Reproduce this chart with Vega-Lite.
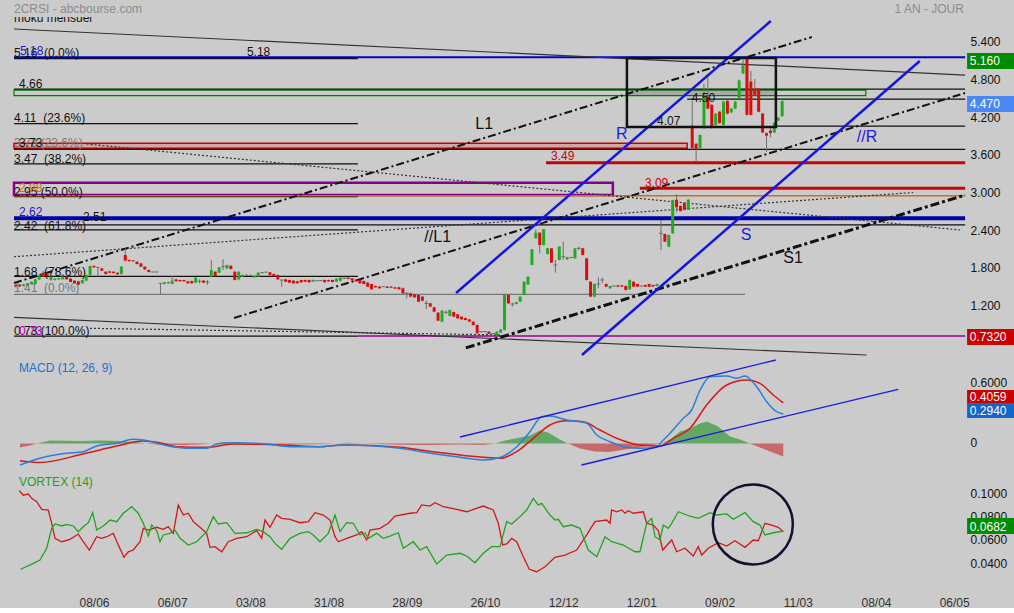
{
"$schema":"https://vega.github.io/schema/vega-lite/v6.json",
"background":"#cbcbcb",
"padding":0,
"spacing":0,
"bounds":"flush",
"config":{"view":{"stroke":null},"font":"Liberation Sans"},
"resolve":{"scale":{"x":"independent","y":"independent"}},
"datasets":{
"titles":[{"t":"2CRSI - abcbourse.com","i":-0.46,"y":8,"a":"L"},{"t":"1 AN - JOUR","i":242.5,"y":8,"a":"R"}],
"candles":[
{"i":0,"o":1.543,"h":1.555,"l":1.505,"c":1.517},{"i":1,"o":1.549,"h":1.56,"l":1.51,"c":1.522},{"i":2,"o":1.527,"h":1.56,"l":1.52,"c":1.554},{"i":3,"o":1.533,"h":1.575,"l":1.525,"c":1.57},{"i":4,"o":1.559,"h":1.6,"l":1.55,"c":1.596},{"i":5,"o":1.559,"h":1.64,"l":1.55,"c":1.633},{"i":6,"o":1.633,"h":1.71,"l":1.62,"c":1.702},{"i":7,"o":1.739,"h":1.77,"l":1.67,"c":1.676},{"i":8,"o":1.729,"h":1.74,"l":1.68,"c":1.686},{"i":9,"o":1.623,"h":1.68,"l":1.61,"c":1.676},
{"i":10,"o":1.623,"h":1.65,"l":1.615,"c":1.644},{"i":11,"o":1.633,"h":1.66,"l":1.625,"c":1.655},{"i":12,"o":1.633,"h":1.68,"l":1.63,"c":1.676},{"i":13,"o":1.676,"h":1.685,"l":1.63,"c":1.633},{"i":14,"o":1.644,"h":1.65,"l":1.585,"c":1.591},{"i":15,"o":1.612,"h":1.62,"l":1.565,"c":1.57},{"i":16,"o":1.602,"h":1.61,"l":1.54,"c":1.549},{"i":17,"o":1.57,"h":1.63,"l":1.565,"c":1.623},{"i":18,"o":1.612,"h":1.71,"l":1.605,"c":1.702},{"i":19,"o":1.702,"h":1.85,"l":1.7,"c":1.846},
{"i":20,"o":1.846,"h":1.86,"l":1.82,"c":1.824},{"i":21,"o":1.824,"h":1.83,"l":1.676,"c":1.824},{"i":22,"o":1.808,"h":1.815,"l":1.765,"c":1.771},{"i":23,"o":1.755,"h":1.76,"l":1.71,"c":1.718},{"i":24,"o":1.76,"h":1.765,"l":1.735,"c":1.739},{"i":25,"o":1.755,"h":1.76,"l":1.73,"c":1.734},{"i":26,"o":1.739,"h":1.745,"l":1.705,"c":1.713},{"i":27,"o":1.718,"h":1.84,"l":1.71,"c":1.835},{"i":28,"o":2.021,"h":2.127,"l":1.92,"c":1.93},{"i":29,"o":1.941,"h":1.95,"l":1.915,"c":1.92},
{"i":30,"o":1.935,"h":1.94,"l":1.915,"c":1.92},{"i":31,"o":1.914,"h":1.92,"l":1.87,"c":1.877},{"i":32,"o":1.888,"h":1.895,"l":1.83,"c":1.835},{"i":33,"o":1.835,"h":1.84,"l":1.785,"c":1.792},{"i":34,"o":1.782,"h":1.79,"l":1.745,"c":1.75},{"i":35,"o":1.75,"h":1.755,"l":1.745,"c":1.75},{"i":36,"o":1.75,"h":1.755,"l":1.745,"c":1.75},{"i":37,"o":1.57,"h":1.575,"l":1.4,"c":1.57},{"i":38,"o":1.559,"h":1.59,"l":1.555,"c":1.586},{"i":39,"o":1.57,"h":1.595,"l":1.565,"c":1.591},
{"i":40,"o":1.559,"h":1.686,"l":1.555,"c":1.612},{"i":41,"o":1.633,"h":1.64,"l":1.6,"c":1.602},{"i":42,"o":1.623,"h":1.63,"l":1.6,"c":1.602},{"i":43,"o":1.623,"h":1.63,"l":1.595,"c":1.602},{"i":44,"o":1.602,"h":1.61,"l":1.565,"c":1.57},{"i":45,"o":1.607,"h":1.615,"l":1.565,"c":1.57},{"i":46,"o":1.58,"h":1.665,"l":1.575,"c":1.66},{"i":47,"o":1.602,"h":1.633,"l":1.57,"c":1.602},{"i":48,"o":1.612,"h":1.62,"l":1.575,"c":1.58},{"i":49,"o":1.591,"h":1.623,"l":1.543,"c":1.591},
{"i":50,"o":1.676,"h":1.941,"l":1.67,"c":1.782},{"i":51,"o":1.755,"h":1.76,"l":1.68,"c":1.686},{"i":52,"o":1.739,"h":1.83,"l":1.735,"c":1.824},{"i":53,"o":1.835,"h":1.952,"l":1.782,"c":1.835},{"i":54,"o":1.808,"h":1.865,"l":1.8,"c":1.86},{"i":55,"o":1.85,"h":1.855,"l":1.79,"c":1.798},{"i":56,"o":1.755,"h":1.76,"l":1.615,"c":1.623},{"i":57,"o":1.633,"h":1.76,"l":1.625,"c":1.755},{"i":58,"o":1.676,"h":1.71,"l":1.67,"c":1.702},{"i":59,"o":1.697,"h":1.715,"l":1.69,"c":1.708},
{"i":60,"o":1.692,"h":1.71,"l":1.685,"c":1.702},{"i":61,"o":1.665,"h":1.695,"l":1.66,"c":1.69},{"i":62,"o":1.676,"h":1.745,"l":1.67,"c":1.739},{"i":63,"o":1.739,"h":1.75,"l":1.73,"c":1.739},{"i":64,"o":1.739,"h":1.76,"l":1.735,"c":1.755},{"i":65,"o":1.745,"h":1.75,"l":1.695,"c":1.702},{"i":66,"o":1.718,"h":1.725,"l":1.68,"c":1.686},{"i":67,"o":1.702,"h":1.71,"l":1.625,"c":1.633},{"i":68,"o":1.623,"h":1.63,"l":1.517,"c":1.623},{"i":69,"o":1.633,"h":1.64,"l":1.59,"c":1.596},
{"i":70,"o":1.623,"h":1.63,"l":1.575,"c":1.58},{"i":71,"o":1.612,"h":1.62,"l":1.565,"c":1.57},{"i":72,"o":1.602,"h":1.61,"l":1.565,"c":1.57},{"i":73,"o":1.623,"h":1.63,"l":1.58,"c":1.586},{"i":74,"o":1.623,"h":1.63,"l":1.59,"c":1.596},{"i":75,"o":1.623,"h":1.63,"l":1.58,"c":1.586},{"i":76,"o":1.596,"h":1.63,"l":1.59,"c":1.623},{"i":77,"o":1.612,"h":1.62,"l":1.605,"c":1.612},{"i":78,"o":1.612,"h":1.62,"l":1.605,"c":1.612},{"i":79,"o":1.623,"h":1.63,"l":1.58,"c":1.586},
{"i":80,"o":1.623,"h":1.63,"l":1.595,"c":1.602},{"i":81,"o":1.623,"h":1.63,"l":1.585,"c":1.591},{"i":82,"o":1.596,"h":1.65,"l":1.59,"c":1.644},{"i":83,"o":1.61,"h":1.67,"l":1.6,"c":1.66},{"i":84,"o":1.65,"h":1.66,"l":1.64,"c":1.65},{"i":85,"o":1.66,"h":1.67,"l":1.635,"c":1.64},{"i":86,"o":1.65,"h":1.655,"l":1.615,"c":1.62},{"i":87,"o":1.63,"h":1.635,"l":1.595,"c":1.6},{"i":88,"o":1.623,"h":1.63,"l":1.565,"c":1.57},{"i":89,"o":1.607,"h":1.615,"l":1.555,"c":1.559},
{"i":90,"o":1.58,"h":1.59,"l":1.51,"c":1.517},{"i":91,"o":1.559,"h":1.565,"l":1.47,"c":1.474},{"i":92,"o":1.527,"h":1.535,"l":1.5,"c":1.506},{"i":93,"o":1.517,"h":1.525,"l":1.485,"c":1.49},{"i":94,"o":1.517,"h":1.525,"l":1.51,"c":1.517},{"i":95,"o":1.517,"h":1.525,"l":1.49,"c":1.495},{"i":96,"o":1.517,"h":1.525,"l":1.495,"c":1.5},{"i":97,"o":1.506,"h":1.515,"l":1.48,"c":1.485},{"i":98,"o":1.506,"h":1.515,"l":1.47,"c":1.474},{"i":99,"o":1.49,"h":1.5,"l":1.405,"c":1.411},
{"i":100,"o":1.411,"h":1.43,"l":1.33,"c":1.411},{"i":101,"o":1.411,"h":1.42,"l":1.35,"c":1.358},{"i":102,"o":1.395,"h":1.4,"l":1.34,"c":1.347},{"i":103,"o":1.384,"h":1.39,"l":1.27,"c":1.278},{"i":104,"o":1.358,"h":1.365,"l":1.285,"c":1.294},{"i":105,"o":1.252,"h":1.294,"l":1.156,"c":1.252},{"i":106,"o":1.252,"h":1.26,"l":1.19,"c":1.199},{"i":107,"o":1.188,"h":1.195,"l":1.11,"c":1.119},{"i":108,"o":1.103,"h":1.11,"l":0.97,"c":0.976},{"i":109,"o":0.96,"h":1.14,"l":0.955,"c":1.135},
{"i":110,"o":1.108,"h":1.135,"l":1.082,"c":1.108},{"i":111,"o":1.05,"h":1.15,"l":1.045,"c":1.146},{"i":112,"o":1.114,"h":1.12,"l":1.035,"c":1.04},{"i":113,"o":1.077,"h":1.085,"l":1.005,"c":1.013},{"i":114,"o":1.04,"h":1.045,"l":0.99,"c":0.997},{"i":115,"o":1.018,"h":1.025,"l":0.98,"c":0.986},{"i":116,"o":0.997,"h":1.005,"l":0.955,"c":0.96},{"i":117,"o":0.96,"h":0.965,"l":0.9,"c":0.907},{"i":118,"o":0.907,"h":0.915,"l":0.77,"c":0.774},{"i":119,"o":0.801,"h":0.81,"l":0.79,"c":0.801},
{"i":120,"o":0.801,"h":0.81,"l":0.79,"c":0.801},{"i":121,"o":0.801,"h":0.81,"l":0.76,"c":0.764},{"i":122,"o":0.77,"h":0.78,"l":0.76,"c":0.77},{"i":123,"o":0.748,"h":0.805,"l":0.745,"c":0.801},{"i":124,"o":0.785,"h":0.84,"l":0.78,"c":0.835},{"i":125,"o":0.827,"h":1.39,"l":0.82,"c":1.384},{"i":126,"o":1.384,"h":1.39,"l":1.245,"c":1.252},{"i":127,"o":1.241,"h":1.26,"l":1.2,"c":1.241},{"i":128,"o":1.241,"h":1.275,"l":1.235,"c":1.27},{"i":129,"o":1.278,"h":1.36,"l":1.27,"c":1.358},
{"i":130,"o":1.384,"h":1.6,"l":1.38,"c":1.596},{"i":131,"o":1.55,"h":1.68,"l":1.545,"c":1.676},{"i":132,"o":1.862,"h":2.115,"l":1.855,"c":2.111},{"i":133,"o":2.286,"h":2.43,"l":2.28,"c":2.376},{"i":134,"o":2.376,"h":2.38,"l":2.047,"c":2.18},{"i":135,"o":2.18,"h":2.435,"l":2.175,"c":2.429},{"i":136,"o":2.037,"h":2.13,"l":2.03,"c":2.127},{"i":137,"o":2.127,"h":2.13,"l":1.895,"c":1.899},{"i":138,"o":1.862,"h":1.941,"l":1.74,"c":1.862},{"i":139,"o":1.941,"h":2.16,"l":1.935,"c":2.153},
{"i":140,"o":1.994,"h":2.233,"l":1.941,"c":1.994},{"i":141,"o":1.952,"h":1.99,"l":1.945,"c":1.984},{"i":142,"o":1.98,"h":1.99,"l":1.97,"c":1.98},{"i":143,"o":1.968,"h":2.13,"l":1.96,"c":2.127},{"i":144,"o":2.127,"h":2.153,"l":2.1,"c":2.127},{"i":145,"o":2.127,"h":2.135,"l":2.015,"c":2.021},{"i":146,"o":1.968,"h":1.975,"l":1.615,"c":1.623},{"i":147,"o":1.596,"h":1.6,"l":1.35,"c":1.358},{"i":148,"o":1.358,"h":1.565,"l":1.35,"c":1.559},{"i":149,"o":1.559,"h":1.665,"l":1.49,"c":1.559},
{"i":150,"o":1.623,"h":1.665,"l":1.57,"c":1.623},{"i":151,"o":1.559,"h":1.565,"l":1.51,"c":1.517},{"i":152,"o":1.49,"h":1.53,"l":1.485,"c":1.527},{"i":153,"o":1.527,"h":1.535,"l":1.52,"c":1.527},{"i":154,"o":1.538,"h":1.545,"l":1.51,"c":1.517},{"i":155,"o":1.538,"h":1.545,"l":1.51,"c":1.517},{"i":156,"o":1.527,"h":1.535,"l":1.455,"c":1.464},{"i":157,"o":1.474,"h":1.63,"l":1.47,"c":1.623},{"i":158,"o":1.596,"h":1.6,"l":1.51,"c":1.517},{"i":159,"o":1.559,"h":1.565,"l":1.51,"c":1.517},
{"i":160,"o":1.527,"h":1.535,"l":1.52,"c":1.527},{"i":161,"o":1.543,"h":1.55,"l":1.51,"c":1.517},{"i":162,"o":1.559,"h":1.565,"l":1.51,"c":1.517},{"i":163,"o":1.543,"h":1.55,"l":1.515,"c":1.52},{"i":164,"o":1.527,"h":1.565,"l":1.52,"c":1.559},{"i":165,"o":2.365,"h":2.578,"l":2.1,"c":2.365},{"i":166,"o":2.355,"h":2.36,"l":2.225,"c":2.233},{"i":167,"o":2.153,"h":2.345,"l":2.145,"c":2.339},{"i":168,"o":2.365,"h":2.9,"l":2.36,"c":2.896},{"i":169,"o":2.9,"h":2.99,"l":2.7,"c":2.78},
{"i":170,"o":2.8,"h":2.81,"l":2.71,"c":2.72},{"i":171,"o":2.85,"h":2.86,"l":2.73,"c":2.74},{"i":172,"o":2.74,"h":2.91,"l":2.735,"c":2.9},{"i":173,"o":4.08,"h":4.48,"l":3.7,"c":3.72},{"i":174,"o":3.79,"h":3.8,"l":3.5,"c":3.7},{"i":175,"o":3.72,"h":3.94,"l":3.715,"c":3.93},{"i":176,"o":4.04,"h":4.75,"l":4.03,"c":4.57},{"i":177,"o":4.54,"h":4.86,"l":4.34,"c":4.35},{"i":178,"o":4.41,"h":4.42,"l":4.03,"c":4.04},{"i":179,"o":4.09,"h":4.28,"l":4.08,"c":4.27},
{"i":180,"o":4.3,"h":4.31,"l":4.11,"c":4.12},{"i":181,"o":4.09,"h":4.47,"l":4.08,"c":4.46},{"i":182,"o":4.475,"h":4.48,"l":4.26,"c":4.27},{"i":183,"o":4.29,"h":4.36,"l":4.28,"c":4.35},{"i":184,"o":4.35,"h":4.47,"l":4.34,"c":4.46},{"i":185,"o":4.51,"h":4.81,"l":4.5,"c":4.8},{"i":186,"o":4.91,"h":5.13,"l":4.9,"c":5.04},{"i":187,"o":5.15,"h":5.16,"l":4.24,"c":4.25},{"i":188,"o":4.78,"h":4.95,"l":4.24,"c":4.25},{"i":189,"o":4.67,"h":4.82,"l":4.56,"c":4.57},
{"i":190,"o":4.67,"h":4.68,"l":4.29,"c":4.3},{"i":191,"o":4.27,"h":4.28,"l":3.96,"c":3.97},{"i":192,"o":3.96,"h":3.97,"l":3.66,"c":3.92},{"i":193,"o":4.0,"h":4.05,"l":3.89,"c":3.96},{"i":194,"o":3.97,"h":4.13,"l":3.96,"c":4.125},{"i":195,"o":4.16,"h":4.21,"l":4.15,"c":4.205},{"i":196,"o":4.23,"h":4.48,"l":4.22,"c":4.47}
],
"boxes":[
{"id":"red","i1":-0.46,"i2":171.7,"p1":3.718,"p2":3.798},
{"id":"green","i1":-0.46,"i2":217.4,"p1":4.555,"p2":4.645},
{"id":"gfill","i1":156.3,"i2":194.4,"p1":4.56,"p2":4.64},
{"id":"purple","i1":-0.46,"i2":152.7,"p1":2.975,"p2":3.171},
{"id":"black","i1":156.3,"i2":194.4,"p1":4.057,"p2":5.155}
],
"lines":[
{"id":"f1","k":"blk","i":-0.46,"p":5.145},{"id":"f1","k":"blk","i":87.5,"p":5.145},
{"id":"f2","k":"blk","i":-0.46,"p":4.11},{"id":"f2","k":"blk","i":87.5,"p":4.11},
{"id":"f3","k":"blk","i":-0.46,"p":3.47},{"id":"f3","k":"blk","i":87.5,"p":3.47},
{"id":"f4","k":"blk","i":-0.46,"p":2.95},{"id":"f4","k":"blk","i":87.5,"p":2.95},
{"id":"f5","k":"blk","i":-0.46,"p":2.42},{"id":"f5","k":"blk","i":87.5,"p":2.42},
{"id":"f6","k":"blk","i":-0.46,"p":1.68},{"id":"f6","k":"blk","i":87.5,"p":1.68},
{"id":"f7","k":"blk","i":-0.46,"p":0.73},{"id":"f7","k":"blk","i":87.5,"p":0.73},
{"id":"h1","k":"blk","i":-0.46,"p":4.66},{"id":"h1","k":"blk","i":242.8,"p":4.66},
{"id":"h2","k":"blk","i":-0.46,"p":3.702},{"id":"h2","k":"blk","i":242.8,"p":3.702},
{"id":"h3","k":"blk","i":-0.46,"p":2.5},{"id":"h3","k":"blk","i":242.8,"p":2.5},
{"id":"h4","k":"blk","i":171.7,"p":4.5},{"id":"h4","k":"blk","i":242.8,"p":4.5},
{"id":"h5","k":"blk","i":194.4,"p":4.07},{"id":"h5","k":"blk","i":242.8,"p":4.07},
{"id":"t1","k":"thin","i":-0.46,"p":5.616},{"id":"t1","k":"thin","i":242.8,"p":4.884},
{"id":"t2","k":"thin","i":-0.46,"p":1.029},{"id":"t2","k":"thin","i":217.6,"p":0.429},
{"id":"b1","k":"blue4","i":-0.46,"p":2.604},{"id":"b1","k":"blue4","i":242.8,"p":2.604},
{"id":"b2","k":"blue2","i":-0.46,"p":5.165},{"id":"b2","k":"blue2","i":242.8,"p":5.165},
{"id":"r1","k":"red3","i":135.6,"p":3.489},{"id":"r1","k":"red3","i":242.8,"p":3.489},
{"id":"r2","k":"red3","i":159.6,"p":3.082},{"id":"r2","k":"red3","i":242.8,"p":3.082},
{"id":"o1","k":"orange","i":-0.46,"p":2.964},{"id":"o1","k":"orange","i":242.8,"p":2.964},
{"id":"p1","k":"purple","i":87.5,"p":0.732},{"id":"p1","k":"purple","i":242.8,"p":0.732},
{"id":"g1","k":"gray","i":-0.46,"p":1.395},{"id":"g1","k":"gray","i":186.5,"p":1.395},
{"id":"d1","k":"dd2","i":-0.46,"p":1.575},{"id":"d1","k":"dd2","i":203.6,"p":5.489},
{"id":"d2","k":"dd2","i":55.8,"p":1.018},{"id":"d2","k":"dd2","i":242.8,"p":4.598},
{"id":"d3","k":"dd3","i":115.1,"p":0.542},{"id":"d3","k":"dd3","i":242.8,"p":2.975},
{"id":"s1","k":"bluesl","i":112.6,"p":1.416},{"id":"s1","k":"bluesl","i":193.1,"p":5.744},
{"id":"s2","k":"bluesl","i":144.8,"p":0.43},{"id":"s2","k":"bluesl","i":231.2,"p":5.107},
{"id":"q1","k":"dot","i":-0.46,"p":1.993},{"id":"q1","k":"dot","i":229.5,"p":3.015},
{"id":"q2","k":"dot","i":18.1,"p":3.787},{"id":"q2","k":"dot","i":241.5,"p":2.418},
{"id":"q3","k":"dot","i":18.98,"p":0.854},{"id":"q3","k":"dot","i":123.8,"p":0.749}
],
"labels":[
{"t":"5.16\u00a0 (0.0%)","k":"blk","i":-0.46,"p":5.23},
{"t":"5.18","k":"blue","i":1.07,"p":5.274},
{"t":"5.18","k":"blk","i":59.1,"p":5.25},
{"t":"4.66","k":"blk","i":0.82,"p":4.741},
{"t":"4.11\u00a0 (23.6%)","k":"blk","i":-0.46,"p":4.2},
{"t":"3.73 (23.6%)","k":"gray","i":-0.46,"p":3.803},
{"t":"3.73","k":"blk","i":0.82,"p":3.803},
{"t":"3.47\u00a0 (38.2%)","k":"blk","i":-0.46,"p":3.548},
{"t":"2.95 (50.0%)","k":"blk","i":-0.46,"p":3.028},
{"t":"2.98","k":"orange","i":0.82,"p":3.087},
{"t":"2.62","k":"blue","i":0.82,"p":2.71},
{"t":"2.51","k":"blk","i":17.2,"p":2.625},
{"t":"2.42\u00a0 (61.8%)","k":"blk","i":-0.46,"p":2.482},
{"t":"1.68\u00a0 (78.6%)","k":"blk","i":-0.46,"p":1.755},
{"t":"1.41\u00a0 (0.0%)","k":"gray","i":-0.46,"p":1.491},
{"t":"0.73 (100.0%)","k":"blk","i":-0.46,"p":0.811},
{"t":"0.73","k":"purple","i":0.82,"p":0.811},
{"t":"4.50","k":"blk","i":172.9,"p":4.519},
{"t":"4.07","k":"blk","i":164.0,"p":4.153},
{"t":"3.49","k":"red","i":136.9,"p":3.596},
{"t":"3.09","k":"red","i":160.9,"p":3.171}
],
"biglabels":[
{"t":"L1","k":"blk","i":119.8,"p":4.103},
{"t":"//L1","k":"blk","i":107.9,"p":2.31},
{"t":"R","k":"blue","i":155.0,"p":3.946},
{"t":"//R","k":"blue","i":217.7,"p":3.898},
{"t":"S","k":"blue","i":186.8,"p":2.339},
{"t":"S1","k":"blk","i":198.8,"p":1.973}
],
"moku":[{"t":"moku mensuel","i":-0.46,"p":5.728}],
"pricetags":[
{"t":"5.160","k":"g","i1":243.3,"i2":255.5,"p":5.107,"p1":4.98,"p2":5.234,"ti":244.0},
{"t":"4.470","k":"b","i1":243.3,"i2":255.5,"p":4.423,"p1":4.296,"p2":4.55,"ti":244.0},
{"t":"0.7320","k":"r","i1":243.3,"i2":255.5,"p":0.716,"p1":0.589,"p2":0.843,"ti":244.0}
],
"macd":[
{"i":1.07,"v":-0.215,"s":"m"},{"i":6.19,"v":-0.148,"s":"m"},{"i":13.02,"v":-0.098,"s":"m"},{"i":17.19,"v":-0.082,"s":"m"},{"i":20.69,"v":-0.025,"s":"m"},{"i":25.81,"v":0.002,"s":"m"},{"i":29.97,"v":0.042,"s":"m"},{"i":32.53,"v":0.035,"s":"m"},{"i":36.88,"v":-0.005,"s":"m"},{"i":41.15,"v":-0.038,"s":"m"},{"i":43.71,"v":-0.048,"s":"m"},{"i":48.82,"v":-0.048,"s":"m"},{"i":51.38,"v":-0.005,"s":"m"},{"i":55.55,"v":0.008,"s":"m"},{"i":64.17,"v":-0.005,"s":"m"},{"i":70.13,"v":-0.032,"s":"m"},{"i":77.8,"v":-0.032,"s":"m"},{"i":83.68,"v":-0.015,"s":"m"},{"i":88.03,"v":-0.018,"s":"m"},{"i":98.26,"v":-0.048,"s":"m"},{"i":105.93,"v":-0.098,"s":"m"},{"i":113.6,"v":-0.138,"s":"m"},{"i":119.49,"v":-0.165,"s":"m"},{"i":123.84,"v":-0.14,"s":"m"},{"i":128.11,"v":-0.032,"s":"m"},{"i":131.51,"v":0.118,"s":"m"},{"i":134.5,"v":0.268,"s":"m"},{"i":136.62,"v":0.275,"s":"m"},{"i":140.9,"v":0.235,"s":"m"},{"i":146.01,"v":0.202,"s":"m"},{"i":148.57,"v":0.085,"s":"m"},{"i":151.97,"v":0.018,"s":"m"},{"i":156.24,"v":-0.038,"s":"m"},{"i":159.64,"v":-0.048,"s":"m"},{"i":163.91,"v":-0.038,"s":"m"},{"i":165.19,"v":0.018,"s":"m"},{"i":167.31,"v":0.102,"s":"m"},{"i":170.72,"v":0.252,"s":"m"},{"i":172.86,"v":0.335,"s":"m"},{"i":175.01,"v":0.535,"s":"m"},{"i":177.57,"v":0.668,"s":"m"},{"i":181.82,"v":0.675,"s":"m"},{"i":184.37,"v":0.652,"s":"m"},{"i":186.5,"v":0.675,"s":"m"},{"i":189.49,"v":0.568,"s":"m"},{"i":192.05,"v":0.418,"s":"m"},{"i":194.6,"v":0.318,"s":"m"},{"i":196.29,"v":0.294,"s":"m"},
{"i":1.07,"v":-0.172,"s":"s"},{"i":6.19,"v":-0.19,"s":"s"},{"i":17.19,"v":-0.105,"s":"s"},{"i":25.81,"v":-0.025,"s":"s"},{"i":32.53,"v":0.025,"s":"s"},{"i":36.88,"v":0.008,"s":"s"},{"i":41.15,"v":-0.032,"s":"s"},{"i":48.82,"v":-0.038,"s":"s"},{"i":55.55,"v":-0.005,"s":"s"},{"i":68.34,"v":-0.015,"s":"s"},{"i":77.8,"v":-0.032,"s":"s"},{"i":83.68,"v":-0.015,"s":"s"},{"i":98.26,"v":-0.038,"s":"s"},{"i":106.7,"v":-0.082,"s":"s"},{"i":119.49,"v":-0.138,"s":"s"},{"i":123.84,"v":-0.148,"s":"s"},{"i":128.11,"v":-0.082,"s":"s"},{"i":132.35,"v":0.052,"s":"s"},{"i":136.62,"v":0.185,"s":"s"},{"i":140.9,"v":0.228,"s":"s"},{"i":145.14,"v":0.218,"s":"s"},{"i":149.41,"v":0.135,"s":"s"},{"i":153.68,"v":0.052,"s":"s"},{"i":159.64,"v":-0.015,"s":"s"},{"i":164.76,"v":-0.025,"s":"s"},{"i":168.16,"v":0.052,"s":"s"},{"i":172.43,"v":0.152,"s":"s"},{"i":176.7,"v":0.385,"s":"s"},{"i":181.82,"v":0.585,"s":"s"},{"i":186.93,"v":0.635,"s":"s"},{"i":190.33,"v":0.602,"s":"s"},{"i":193.73,"v":0.485,"s":"s"},{"i":196.29,"v":0.406,"s":"s"}
],
"hist":[
{"i":1.07,"g":0,"r":-0.04},{"i":3.63,"g":0,"r":-0.02},{"i":5.42,"g":0,"r":0},{"i":8.75,"g":0.03,"r":0},{"i":16.42,"g":0.025,"r":0},{"i":21.53,"g":0.03,"r":0},{"i":26.65,"g":0.025,"r":0},{"i":30.49,"g":0.015,"r":0},{"i":33.04,"g":0,"r":0},{"i":36.88,"g":0,"r":-0.013},{"i":43.27,"g":0,"r":-0.015},{"i":47.11,"g":0,"r":-0.01},{"i":50.18,"g":0,"r":0},{"i":52.74,"g":0.01,"r":0},{"i":55.55,"g":0.013,"r":0},{"i":58.62,"g":0,"r":0},{"i":63.73,"g":0,"r":-0.006},{"i":67.57,"g":0,"r":-0.01},{"i":77.8,"g":0,"r":-0.008},{"i":81.9,"g":0,"r":0},{"i":85.0,"g":0.008,"r":0},{"i":88.54,"g":0,"r":0},{"i":98.26,"g":0,"r":-0.012},{"i":105.93,"g":0,"r":-0.015},{"i":113.6,"g":0,"r":-0.01},{"i":119.49,"g":0,"r":-0.015},{"i":122.56,"g":0,"r":0},{"i":125.12,"g":0.03,"r":0},{"i":128.95,"g":0.06,"r":0},{"i":131.51,"g":0.08,"r":0},{"i":134.07,"g":0.13,"r":0},{"i":136.11,"g":0.11,"r":0},{"i":138.67,"g":0.05,"r":0},{"i":141.23,"g":0,"r":0},{"i":144.3,"g":0,"r":-0.05},{"i":148.13,"g":0,"r":-0.08},{"i":151.97,"g":0,"r":-0.085},{"i":155.8,"g":0,"r":-0.06},{"i":159.64,"g":0,"r":-0.04},{"i":163.48,"g":0,"r":-0.01},{"i":165.27,"g":0,"r":0},{"i":167.31,"g":0.04,"r":0},{"i":169.87,"g":0.12,"r":0},{"i":172.43,"g":0.15,"r":0},{"i":174.99,"g":0.2,"r":0},{"i":176.78,"g":0.22,"r":0},{"i":179.59,"g":0.17,"r":0},{"i":182.66,"g":0.07,"r":0},{"i":185.22,"g":0.04,"r":0},{"i":187.77,"g":0,"r":0},{"i":190.33,"g":0,"r":-0.04},{"i":192.89,"g":0,"r":-0.08},{"i":194.94,"g":0,"r":-0.11},{"i":196.29,"g":0,"r":-0.13}
],
"macdtl":[
{"id":"u","i":113.6,"v":0.065},{"id":"u","i":194.4,"v":0.835},
{"id":"d","i":144.7,"v":-0.215},{"id":"d","i":225.7,"v":0.542}
],
"macdtext":[{"t":"MACD (12, 26, 9)","i":0.82,"v":0.755}],
"macdtags":[
{"t":"0.4059","k":"r","i1":243.3,"i2":255.5,"v1":0.385,"v2":0.535,"v":0.465,"ti":244.0},
{"t":"0.2940","k":"b","i1":243.3,"i2":255.5,"v1":0.255,"v2":0.405,"v":0.33,"ti":244.0}
],
"vortex":[
{"i":0.9,"v":0.1028,"s":"m"},{"i":1.92,"v":0.099,"s":"m"},{"i":3.2,"v":0.1,"s":"m"},{"i":4.07,"v":0.0963,"s":"m"},{"i":5.35,"v":0.0934,"s":"m"},{"i":6.62,"v":0.0869,"s":"m"},{"i":8.31,"v":0.0863,"s":"m"},{"i":9.18,"v":0.0749,"s":"m"},{"i":10.03,"v":0.062,"s":"m"},{"i":11.74,"v":0.0591,"s":"m"},{"i":13.86,"v":0.0612,"s":"m"},{"i":15.98,"v":0.0657,"s":"m"},{"i":17.26,"v":0.0591,"s":"m"},{"i":18.8,"v":0.052,"s":"m"},{"i":20.69,"v":0.0634,"s":"m"},{"i":21.97,"v":0.062,"s":"m"},{"i":23.25,"v":0.0634,"s":"m"},{"i":24.94,"v":0.0663,"s":"m"},{"i":25.96,"v":0.0583,"s":"m"},{"i":27.67,"v":0.0458,"s":"m"},{"i":28.77,"v":0.0505,"s":"m"},{"i":30.05,"v":0.052,"s":"m"},{"i":31.76,"v":0.0591,"s":"m"},{"i":32.61,"v":0.0706,"s":"m"},{"i":33.89,"v":0.0691,"s":"m"},{"i":36.04,"v":0.0715,"s":"m"},{"i":37.72,"v":0.0697,"s":"m"},{"i":39.0,"v":0.072,"s":"m"},{"i":40.28,"v":0.0663,"s":"m"},{"i":41.56,"v":0.0906,"s":"m"},{"i":42.84,"v":0.082,"s":"m"},{"i":44.12,"v":0.0835,"s":"m"},{"i":45.4,"v":0.0763,"s":"m"},{"i":47.11,"v":0.0715,"s":"m"},{"i":48.82,"v":0.0663,"s":"m"},{"i":49.67,"v":0.0543,"s":"m"},{"i":50.95,"v":0.0549,"s":"m"},{"i":52.66,"v":0.0505,"s":"m"},{"i":54.35,"v":0.0591,"s":"m"},{"i":56.5,"v":0.062,"s":"m"},{"i":59.05,"v":0.0634,"s":"m"},{"i":61.61,"v":0.0686,"s":"m"},{"i":62.89,"v":0.062,"s":"m"},{"i":63.73,"v":0.0777,"s":"m"},{"i":65.01,"v":0.0715,"s":"m"},{"i":66.73,"v":0.082,"s":"m"},{"i":68.0,"v":0.0792,"s":"m"},{"i":70.13,"v":0.0783,"s":"m"},{"i":72.69,"v":0.0754,"s":"m"},{"i":74.81,"v":0.0763,"s":"m"},{"i":76.52,"v":0.084,"s":"m"},{"i":78.64,"v":0.082,"s":"m"},{"i":80.36,"v":0.0777,"s":"m"},{"i":81.64,"v":0.0634,"s":"m"},{"i":82.48,"v":0.0591,"s":"m"},{"i":84.63,"v":0.062,"s":"m"},{"i":87.19,"v":0.0649,"s":"m"},{"i":88.47,"v":0.0677,"s":"m"},{"i":89.74,"v":0.0606,"s":"m"},{"i":90.59,"v":0.0691,"s":"m"},{"i":93.15,"v":0.0706,"s":"m"},{"i":95.27,"v":0.0749,"s":"m"},{"i":96.98,"v":0.0811,"s":"m"},{"i":100.82,"v":0.0835,"s":"m"},{"i":102.53,"v":0.084,"s":"m"},{"i":103.81,"v":0.0906,"s":"m"},{"i":105.93,"v":0.0897,"s":"m"},{"i":107.21,"v":0.0925,"s":"m"},{"i":109.34,"v":0.0891,"s":"m"},{"i":112.76,"v":0.0869,"s":"m"},{"i":115.32,"v":0.0848,"s":"m"},{"i":119.57,"v":0.0897,"s":"m"},{"i":122.12,"v":0.0863,"s":"m"},{"i":123.4,"v":0.0749,"s":"m"},{"i":124.53,"v":0.0563,"s":"m"},{"i":125.55,"v":0.0572,"s":"m"},{"i":126.83,"v":0.062,"s":"m"},{"i":128.11,"v":0.0591,"s":"m"},{"i":129.8,"v":0.0463,"s":"m"},{"i":131.33,"v":0.0355,"s":"m"},{"i":133.22,"v":0.0334,"s":"m"},{"i":135.35,"v":0.0377,"s":"m"},{"i":137.9,"v":0.0458,"s":"m"},{"i":140.46,"v":0.0477,"s":"m"},{"i":143.45,"v":0.052,"s":"m"},{"i":146.01,"v":0.0649,"s":"m"},{"i":148.13,"v":0.0763,"s":"m"},{"i":151.12,"v":0.0777,"s":"m"},{"i":151.97,"v":0.0749,"s":"m"},{"i":152.4,"v":0.0863,"s":"m"},{"i":153.68,"v":0.0848,"s":"m"},{"i":154.96,"v":0.0863,"s":"m"},{"i":155.81,"v":0.0835,"s":"m"},{"i":156.65,"v":0.0857,"s":"m"},{"i":157.93,"v":0.0835,"s":"m"},{"i":160.49,"v":0.0848,"s":"m"},{"i":161.36,"v":0.0749,"s":"m"},{"i":163.04,"v":0.0734,"s":"m"},{"i":164.32,"v":0.0686,"s":"m"},{"i":165.45,"v":0.052,"s":"m"},{"i":167.75,"v":0.0606,"s":"m"},{"i":169.03,"v":0.0505,"s":"m"},{"i":171.15,"v":0.0535,"s":"m"},{"i":173.27,"v":0.0469,"s":"m"},{"i":174.55,"v":0.0549,"s":"m"},{"i":175.42,"v":0.0477,"s":"m"},{"i":177.11,"v":0.0535,"s":"m"},{"i":179.67,"v":0.0583,"s":"m"},{"i":181.82,"v":0.0554,"s":"m"},{"i":183.94,"v":0.06,"s":"m"},{"i":186.5,"v":0.0543,"s":"m"},{"i":188.62,"v":0.0606,"s":"m"},{"i":189.9,"v":0.06,"s":"m"},{"i":191.61,"v":0.0749,"s":"m"},{"i":193.33,"v":0.0734,"s":"m"},{"i":195.01,"v":0.0715,"s":"m"},{"i":196.29,"v":0.0677,"s":"m"},
{"i":1.25,"v":0.0355,"s":"p"},{"i":4.48,"v":0.0406,"s":"p"},{"i":6.19,"v":0.0434,"s":"p"},{"i":7.9,"v":0.0535,"s":"p"},{"i":9.18,"v":0.0706,"s":"p"},{"i":10.03,"v":0.0743,"s":"p"},{"i":11.74,"v":0.0726,"s":"p"},{"i":13.02,"v":0.074,"s":"p"},{"i":14.71,"v":0.0726,"s":"p"},{"i":15.98,"v":0.0677,"s":"p"},{"i":17.26,"v":0.072,"s":"p"},{"i":18.54,"v":0.0754,"s":"p"},{"i":19.67,"v":0.084,"s":"p"},{"i":20.69,"v":0.0691,"s":"p"},{"i":22.38,"v":0.0726,"s":"p"},{"i":24.09,"v":0.0777,"s":"p"},{"i":25.81,"v":0.0763,"s":"p"},{"i":27.49,"v":0.0835,"s":"p"},{"i":29.64,"v":0.0891,"s":"p"},{"i":31.33,"v":0.0835,"s":"p"},{"i":32.61,"v":0.0749,"s":"p"},{"i":33.89,"v":0.064,"s":"p"},{"i":34.76,"v":0.0734,"s":"p"},{"i":36.04,"v":0.0686,"s":"p"},{"i":36.88,"v":0.0591,"s":"p"},{"i":37.72,"v":0.0649,"s":"p"},{"i":39.44,"v":0.0663,"s":"p"},{"i":40.72,"v":0.0691,"s":"p"},{"i":42.0,"v":0.062,"s":"p"},{"i":44.12,"v":0.0563,"s":"p"},{"i":46.27,"v":0.0591,"s":"p"},{"i":48.82,"v":0.0677,"s":"p"},{"i":50.51,"v":0.0806,"s":"p"},{"i":51.79,"v":0.0743,"s":"p"},{"i":53.94,"v":0.0754,"s":"p"},{"i":56.06,"v":0.0663,"s":"p"},{"i":59.05,"v":0.0668,"s":"p"},{"i":61.61,"v":0.0697,"s":"p"},{"i":63.3,"v":0.0677,"s":"p"},{"i":65.01,"v":0.0634,"s":"p"},{"i":66.29,"v":0.0577,"s":"p"},{"i":68.0,"v":0.0526,"s":"p"},{"i":70.13,"v":0.062,"s":"p"},{"i":72.69,"v":0.0663,"s":"p"},{"i":74.81,"v":0.0677,"s":"p"},{"i":76.09,"v":0.0649,"s":"p"},{"i":77.8,"v":0.0591,"s":"p"},{"i":79.92,"v":0.0663,"s":"p"},{"i":81.64,"v":0.082,"s":"p"},{"i":82.92,"v":0.0677,"s":"p"},{"i":84.63,"v":0.0754,"s":"p"},{"i":86.32,"v":0.0749,"s":"p"},{"i":88.03,"v":0.0649,"s":"p"},{"i":89.31,"v":0.0668,"s":"p"},{"i":90.15,"v":0.062,"s":"p"},{"i":92.3,"v":0.0663,"s":"p"},{"i":93.99,"v":0.062,"s":"p"},{"i":95.7,"v":0.064,"s":"p"},{"i":97.83,"v":0.0668,"s":"p"},{"i":99.1,"v":0.0535,"s":"p"},{"i":101.66,"v":0.0591,"s":"p"},{"i":103.38,"v":0.052,"s":"p"},{"i":105.09,"v":0.0549,"s":"p"},{"i":107.65,"v":0.04,"s":"p"},{"i":110.2,"v":0.0477,"s":"p"},{"i":113.61,"v":0.0492,"s":"p"},{"i":115.32,"v":0.0469,"s":"p"},{"i":117.44,"v":0.0411,"s":"p"},{"i":119.57,"v":0.0492,"s":"p"},{"i":121.71,"v":0.0549,"s":"p"},{"i":123.84,"v":0.0549,"s":"p"},{"i":125.55,"v":0.0763,"s":"p"},{"i":126.83,"v":0.0743,"s":"p"},{"i":128.95,"v":0.0806,"s":"p"},{"i":130.66,"v":0.0863,"s":"p"},{"i":132.35,"v":0.0963,"s":"p"},{"i":133.63,"v":0.0906,"s":"p"},{"i":134.5,"v":0.092,"s":"p"},{"i":136.62,"v":0.082,"s":"p"},{"i":137.9,"v":0.0777,"s":"p"},{"i":138.75,"v":0.0783,"s":"p"},{"i":140.03,"v":0.072,"s":"p"},{"i":142.17,"v":0.0734,"s":"p"},{"i":144.3,"v":0.0706,"s":"p"},{"i":146.42,"v":0.052,"s":"p"},{"i":148.57,"v":0.0463,"s":"p"},{"i":150.7,"v":0.0634,"s":"p"},{"i":152.4,"v":0.0591,"s":"p"},{"i":155.37,"v":0.0563,"s":"p"},{"i":158.36,"v":0.0505,"s":"p"},{"i":159.64,"v":0.0505,"s":"p"},{"i":161.36,"v":0.0749,"s":"p"},{"i":162.63,"v":0.0792,"s":"p"},{"i":163.48,"v":0.0634,"s":"p"},{"i":164.76,"v":0.0606,"s":"p"},{"i":165.6,"v":0.0734,"s":"p"},{"i":166.88,"v":0.0706,"s":"p"},{"i":167.75,"v":0.0749,"s":"p"},{"i":169.44,"v":0.0848,"s":"p"},{"i":171.59,"v":0.082,"s":"p"},{"i":172.86,"v":0.0806,"s":"p"},{"i":174.55,"v":0.0792,"s":"p"},{"i":177.54,"v":0.084,"s":"p"},{"i":179.26,"v":0.082,"s":"p"},{"i":181.82,"v":0.0829,"s":"p"},{"i":183.5,"v":0.0783,"s":"p"},{"i":186.5,"v":0.084,"s":"p"},{"i":188.62,"v":0.0763,"s":"p"},{"i":190.33,"v":0.0734,"s":"p"},{"i":191.61,"v":0.0649,"s":"p"},{"i":193.73,"v":0.0668,"s":"p"},{"i":196.29,"v":0.0682,"s":"p"}
],
"vortextext":[{"t":"VORTEX (14)","i":0.82,"v":0.1103}],
"circle":[{"i":188.5,"v":0.0739}],
"vortextags":[{"t":"0.0682","i1":243.3,"i2":255.5,"v1":0.0657,"v2":0.0794,"v":0.07215,"ti":244.0}]
},
"vconcat":[
{
"width":962,"height":17,
"data":{"name":"titles"},
"layer":[
{"transform":[{"filter":"datum.a == 'L'"}],"mark":{"type":"text","align":"left","baseline":"middle","fontSize":12,"color":"#8c8c8c"},
 "encoding":{"x":{"field":"i","type":"quantitative","scale":{"domain":[-4.041,242],"nice":false,"zero":false,"padding":0},"axis":null},"y":{"field":"y","type":"quantitative","scale":{"domain":[0,17],"nice":false,"zero":false},"axis":null},"text":{"field":"t"}}},
{"transform":[{"filter":"datum.a == 'R'"}],"mark":{"type":"text","align":"right","baseline":"middle","fontSize":12,"color":"#8c8c8c"},
 "encoding":{"x":{"field":"i","type":"quantitative","scale":{"domain":[-4.041,242],"nice":false,"zero":false,"padding":0},"axis":null},"y":{"field":"y","type":"quantitative","scale":{"domain":[0,17],"nice":false,"zero":false},"axis":null},"text":{"field":"t"}}}
]
},
{
"width":962,"height":328,
"resolve":{"scale":{"color":"independent"}},
"layer":[
{"data":{"name":"boxes"},"transform":[{"filter":"datum.id == 'red'"}],"mark":{"type":"rect","fill":"#d3a6a6","stroke":"#c80000","strokeWidth":1.5},
 "encoding":{"x":{"field":"i1","type":"quantitative","scale":{"domain":[-4.041,242],"nice":false,"zero":false,"padding":0},"axis":null},"x2":{"field":"i2"},
 "y":{"field":"p1","type":"quantitative","scale":{"domain":[0.5885,5.8073],"nice":false,"zero":false},"axis":{"orient":"right","values":[1.2,1.8,2.4,3,3.6,4.2,4.8,5.4],"tickCount":20,"format":".3f","domain":false,"ticks":false,"grid":false,"labelPadding":8,"labelFontSize":12,"labelColor":"#111111","labelFont":"Liberation Sans","title":null,"labelOffset":-1,"labelOverlap":false}},"y2":{"field":"p2"}}},
{"data":{"name":"boxes"},"transform":[{"filter":"datum.id == 'gfill'"}],"mark":{"type":"rect","fill":"#a9a9a9"},
 "encoding":{"x":{"field":"i1","type":"quantitative","scale":{"domain":[-4.041,242],"nice":false,"zero":false,"padding":0},"axis":null},"x2":{"field":"i2"},"y":{"field":"p1","type":"quantitative","scale":{"domain":[0.5885,5.8073],"nice":false,"zero":false}},"y2":{"field":"p2"}}},
{"data":{"name":"boxes"},"transform":[{"filter":"datum.id == 'green'"}],"mark":{"type":"rect","filled":false,"stroke":"#007a00","strokeWidth":1.2},
 "encoding":{"x":{"field":"i1","type":"quantitative","scale":{"domain":[-4.041,242],"nice":false,"zero":false,"padding":0},"axis":null},"x2":{"field":"i2"},"y":{"field":"p1","type":"quantitative","scale":{"domain":[0.5885,5.8073],"nice":false,"zero":false}},"y2":{"field":"p2"}}},
{"data":{"name":"boxes"},"transform":[{"filter":"datum.id == 'purple'"}],"mark":{"type":"rect","filled":false,"stroke":"#880088","strokeWidth":2.5},
 "encoding":{"x":{"field":"i1","type":"quantitative","scale":{"domain":[-4.041,242],"nice":false,"zero":false,"padding":0},"axis":null},"x2":{"field":"i2"},"y":{"field":"p1","type":"quantitative","scale":{"domain":[0.5885,5.8073],"nice":false,"zero":false}},"y2":{"field":"p2"}}},
{"data":{"name":"lines"},"transform":[{"filter":"datum.k == 'blk'"}],"mark":{"type":"line","color":"#111111","strokeWidth":1.3,"clip":false},
 "encoding":{"x":{"field":"i","type":"quantitative","scale":{"domain":[-4.041,242],"nice":false,"zero":false,"padding":0},"axis":null},"y":{"field":"p","type":"quantitative","scale":{"domain":[0.5885,5.8073],"nice":false,"zero":false}},"detail":{"field":"id"}}},
{"data":{"name":"lines"},"transform":[{"filter":"datum.k == 'gray'"}],"mark":{"type":"line","color":"#777777","strokeWidth":1.2,"clip":false},
 "encoding":{"x":{"field":"i","type":"quantitative","scale":{"domain":[-4.041,242],"nice":false,"zero":false,"padding":0},"axis":null},"y":{"field":"p","type":"quantitative","scale":{"domain":[0.5885,5.8073],"nice":false,"zero":false}},"detail":{"field":"id"}}},
{"data":{"name":"lines"},"transform":[{"filter":"datum.k == 'orange'"}],"mark":{"type":"line","color":"#c8701e","strokeWidth":1.5,"clip":false},
 "encoding":{"x":{"field":"i","type":"quantitative","scale":{"domain":[-4.041,242],"nice":false,"zero":false,"padding":0},"axis":null},"y":{"field":"p","type":"quantitative","scale":{"domain":[0.5885,5.8073],"nice":false,"zero":false}},"detail":{"field":"id"}}},
{"data":{"name":"lines"},"transform":[{"filter":"datum.k == 'purple'"}],"mark":{"type":"line","color":"#990099","strokeWidth":1.5,"clip":false},
 "encoding":{"x":{"field":"i","type":"quantitative","scale":{"domain":[-4.041,242],"nice":false,"zero":false,"padding":0},"axis":null},"y":{"field":"p","type":"quantitative","scale":{"domain":[0.5885,5.8073],"nice":false,"zero":false}},"detail":{"field":"id"}}},
{"data":{"name":"lines"},"transform":[{"filter":"datum.k == 'blue4'"}],"mark":{"type":"line","color":"#0000aa","strokeWidth":4,"clip":false},
 "encoding":{"x":{"field":"i","type":"quantitative","scale":{"domain":[-4.041,242],"nice":false,"zero":false,"padding":0},"axis":null},"y":{"field":"p","type":"quantitative","scale":{"domain":[0.5885,5.8073],"nice":false,"zero":false}},"detail":{"field":"id"}}},
{"data":{"name":"lines"},"transform":[{"filter":"datum.k == 'blue2'"}],"mark":{"type":"line","color":"#0000cc","strokeWidth":2,"clip":false},
 "encoding":{"x":{"field":"i","type":"quantitative","scale":{"domain":[-4.041,242],"nice":false,"zero":false,"padding":0},"axis":null},"y":{"field":"p","type":"quantitative","scale":{"domain":[0.5885,5.8073],"nice":false,"zero":false}},"detail":{"field":"id"}}},
{"data":{"name":"lines"},"transform":[{"filter":"datum.k == 'red3'"}],"mark":{"type":"line","color":"#cc0000","strokeWidth":3,"clip":false},
 "encoding":{"x":{"field":"i","type":"quantitative","scale":{"domain":[-4.041,242],"nice":false,"zero":false,"padding":0},"axis":null},"y":{"field":"p","type":"quantitative","scale":{"domain":[0.5885,5.8073],"nice":false,"zero":false}},"detail":{"field":"id"}}},
{"data":{"name":"lines"},"transform":[{"filter":"datum.k == 'thin'"}],"mark":{"type":"line","color":"#333333","strokeWidth":1.2,"clip":false},
 "encoding":{"x":{"field":"i","type":"quantitative","scale":{"domain":[-4.041,242],"nice":false,"zero":false,"padding":0},"axis":null},"y":{"field":"p","type":"quantitative","scale":{"domain":[0.5885,5.8073],"nice":false,"zero":false}},"detail":{"field":"id"}}},
{"data":{"name":"lines"},"transform":[{"filter":"datum.k == 'dot'"}],"mark":{"type":"line","color":"#333333","strokeWidth":1.2,"strokeDash":[2,2],"clip":false},
 "encoding":{"x":{"field":"i","type":"quantitative","scale":{"domain":[-4.041,242],"nice":false,"zero":false,"padding":0},"axis":null},"y":{"field":"p","type":"quantitative","scale":{"domain":[0.5885,5.8073],"nice":false,"zero":false}},"detail":{"field":"id"}}},
{"data":{"name":"lines"},"transform":[{"filter":"datum.k == 'dd2'"}],"mark":{"type":"line","color":"#111111","strokeWidth":2,"strokeDash":[8,3,2,3],"clip":false},
 "encoding":{"x":{"field":"i","type":"quantitative","scale":{"domain":[-4.041,242],"nice":false,"zero":false,"padding":0},"axis":null},"y":{"field":"p","type":"quantitative","scale":{"domain":[0.5885,5.8073],"nice":false,"zero":false}},"detail":{"field":"id"}}},
{"data":{"name":"lines"},"transform":[{"filter":"datum.k == 'dd3'"}],"mark":{"type":"line","color":"#111111","strokeWidth":3,"strokeDash":[9,3,3,3],"clip":false},
 "encoding":{"x":{"field":"i","type":"quantitative","scale":{"domain":[-4.041,242],"nice":false,"zero":false,"padding":0},"axis":null},"y":{"field":"p","type":"quantitative","scale":{"domain":[0.5885,5.8073],"nice":false,"zero":false}},"detail":{"field":"id"}}},
{"data":{"name":"candles"},"mark":{"type":"rule","color":"#6e6e6e","strokeWidth":1},
 "encoding":{"x":{"field":"i","type":"quantitative","scale":{"domain":[-4.041,242],"nice":false,"zero":false,"padding":0},"axis":null},"y":{"field":"l","type":"quantitative","scale":{"domain":[0.5885,5.8073],"nice":false,"zero":false}},"y2":{"field":"h"}}},
{"data":{"name":"candles"},"mark":{"type":"bar","size":3},
 "encoding":{"x":{"field":"i","type":"quantitative","scale":{"domain":[-4.041,242],"nice":false,"zero":false,"padding":0},"axis":null},"y":{"field":"o","type":"quantitative","scale":{"domain":[0.5885,5.8073],"nice":false,"zero":false}},"y2":{"field":"c"},
 "color":{"condition":{"test":"datum.c > datum.o","value":"#20ac20"},"value":"#dd0c0c"}}},
{"data":{"name":"candles"},"transform":[{"filter":"datum.c == datum.o"}],"mark":{"type":"tick","orient":"horizontal","color":"#555555","thickness":1,"size":4},
 "encoding":{"x":{"field":"i","type":"quantitative","scale":{"domain":[-4.041,242],"nice":false,"zero":false,"padding":0},"axis":null},"y":{"field":"c","type":"quantitative","scale":{"domain":[0.5885,5.8073],"nice":false,"zero":false}}}},
{"data":{"name":"lines"},"transform":[{"filter":"datum.k == 'bluesl'"}],"mark":{"type":"line","color":"#1414e6","strokeWidth":2.5,"clip":false},
 "encoding":{"x":{"field":"i","type":"quantitative","scale":{"domain":[-4.041,242],"nice":false,"zero":false,"padding":0},"axis":null},"y":{"field":"p","type":"quantitative","scale":{"domain":[0.5885,5.8073],"nice":false,"zero":false}},"detail":{"field":"id"}}},
{"data":{"name":"boxes"},"transform":[{"filter":"datum.id == 'black'"}],"mark":{"type":"rect","filled":false,"stroke":"#111111","strokeWidth":2.5},
 "encoding":{"x":{"field":"i1","type":"quantitative","scale":{"domain":[-4.041,242],"nice":false,"zero":false,"padding":0},"axis":null},"x2":{"field":"i2"},"y":{"field":"p1","type":"quantitative","scale":{"domain":[0.5885,5.8073],"nice":false,"zero":false}},"y2":{"field":"p2"}}},
{"data":{"name":"labels"},"mark":{"type":"text","align":"left","baseline":"middle","fontSize":12},
 "encoding":{"x":{"field":"i","type":"quantitative","scale":{"domain":[-4.041,242],"nice":false,"zero":false,"padding":0},"axis":null},"y":{"field":"p","type":"quantitative","scale":{"domain":[0.5885,5.8073],"nice":false,"zero":false}},"text":{"field":"t"},
 "color":{"field":"k","type":"nominal","scale":{"domain":["blk","gray","blue","orange","purple","red"],"range":["#111111","#787878","#1a1ad0","#d07010","#b000b0","#cc0000"]},"legend":null}}},
{"data":{"name":"biglabels"},"mark":{"type":"text","align":"center","baseline":"middle","fontSize":16},
 "encoding":{"x":{"field":"i","type":"quantitative","scale":{"domain":[-4.041,242],"nice":false,"zero":false,"padding":0},"axis":null},"y":{"field":"p","type":"quantitative","scale":{"domain":[0.5885,5.8073],"nice":false,"zero":false}},"text":{"field":"t"},
 "color":{"field":"k","type":"nominal","scale":{"domain":["blk","blue"],"range":["#111111","#1a1ae0"]},"legend":null}}},
{"data":{"name":"moku"},"mark":{"type":"text","align":"left","baseline":"alphabetic","fontSize":12,"color":"#111111","clip":true},
 "encoding":{"x":{"field":"i","type":"quantitative","scale":{"domain":[-4.041,242],"nice":false,"zero":false,"padding":0},"axis":null},"y":{"field":"p","type":"quantitative","scale":{"domain":[0.5885,5.8073],"nice":false,"zero":false}},"text":{"field":"t"}}},
{"data":{"name":"pricetags"},"mark":{"type":"rect","clip":false},
 "encoding":{"x":{"field":"i1","type":"quantitative","scale":{"domain":[-4.041,242],"nice":false,"zero":false,"padding":0},"axis":null},"x2":{"field":"i2"},"y":{"field":"p1","type":"quantitative","scale":{"domain":[0.5885,5.8073],"nice":false,"zero":false}},"y2":{"field":"p2"},
 "color":{"field":"k","type":"nominal","scale":{"domain":["g","b","r"],"range":["#008c00","#4b86f5","#cc0000"]},"legend":null}}},
{"data":{"name":"pricetags"},"mark":{"type":"text","align":"left","baseline":"middle","fontSize":12,"color":"#ffffff","clip":false},
 "encoding":{"x":{"field":"ti","type":"quantitative","scale":{"domain":[-4.041,242],"nice":false,"zero":false,"padding":0},"axis":null},"y":{"field":"p","type":"quantitative","scale":{"domain":[0.5885,5.8073],"nice":false,"zero":false}},"text":{"field":"t"}}}
]
},
{
"width":962,"height":125,
"resolve":{"scale":{"color":"independent"}},
"layer":[
{"data":{"name":"hist"},"mark":{"type":"area","color":"#64a664","opacity":1},
 "encoding":{"x":{"field":"i","type":"quantitative","scale":{"domain":[-4.041,242],"nice":false,"zero":false,"padding":0},"axis":null},
 "y":{"field":"g","type":"quantitative","scale":{"domain":[-0.265,0.985],"nice":false,"zero":false},"axis":{"orient":"right","values":[0,0.6],"tickCount":20,"labelExpr":"datum.value == 0 ? '0' : format(datum.value, '.4f')","domain":false,"ticks":false,"grid":false,"labelPadding":8,"labelFontSize":12,"labelColor":"#111111","labelFont":"Liberation Sans","title":null,"labelOffset":-1,"labelOverlap":false}},"y2":{"datum":0}}},
{"data":{"name":"hist"},"mark":{"type":"area","color":"#c86868","opacity":1},
 "encoding":{"x":{"field":"i","type":"quantitative","scale":{"domain":[-4.041,242],"nice":false,"zero":false,"padding":0},"axis":null},"y":{"field":"r","type":"quantitative","scale":{"domain":[-0.265,0.985],"nice":false,"zero":false}},"y2":{"datum":0}}},
{"data":{"name":"macd"},"transform":[{"filter":"datum.s == 's'"}],"mark":{"type":"line","color":"#d81818","strokeWidth":1.5,"interpolate":"monotone"},
 "encoding":{"x":{"field":"i","type":"quantitative","scale":{"domain":[-4.041,242],"nice":false,"zero":false,"padding":0},"axis":null},"y":{"field":"v","type":"quantitative","scale":{"domain":[-0.265,0.985],"nice":false,"zero":false}}}},
{"data":{"name":"macd"},"transform":[{"filter":"datum.s == 'm'"}],"mark":{"type":"line","color":"#2a7fd8","strokeWidth":1.5,"interpolate":"monotone"},
 "encoding":{"x":{"field":"i","type":"quantitative","scale":{"domain":[-4.041,242],"nice":false,"zero":false,"padding":0},"axis":null},"y":{"field":"v","type":"quantitative","scale":{"domain":[-0.265,0.985],"nice":false,"zero":false}}}},
{"data":{"name":"macdtl"},"mark":{"type":"line","color":"#1a1ae6","strokeWidth":1.3,"clip":false},
 "encoding":{"x":{"field":"i","type":"quantitative","scale":{"domain":[-4.041,242],"nice":false,"zero":false,"padding":0},"axis":null},"y":{"field":"v","type":"quantitative","scale":{"domain":[-0.265,0.985],"nice":false,"zero":false}},"detail":{"field":"id"}}},
{"data":{"name":"macdtext"},"mark":{"type":"text","align":"left","baseline":"middle","fontSize":12,"color":"#2070cc"},
 "encoding":{"x":{"field":"i","type":"quantitative","scale":{"domain":[-4.041,242],"nice":false,"zero":false,"padding":0},"axis":null},"y":{"field":"v","type":"quantitative","scale":{"domain":[-0.265,0.985],"nice":false,"zero":false}},"text":{"field":"t"}}},
{"data":{"name":"macdtags"},"mark":{"type":"rect","clip":false},
 "encoding":{"x":{"field":"i1","type":"quantitative","scale":{"domain":[-4.041,242],"nice":false,"zero":false,"padding":0},"axis":null},"x2":{"field":"i2"},"y":{"field":"v1","type":"quantitative","scale":{"domain":[-0.265,0.985],"nice":false,"zero":false}},"y2":{"field":"v2"},
 "color":{"field":"k","type":"nominal","scale":{"domain":["r","b"],"range":["#cc0000","#1466c8"]},"legend":null}}},
{"data":{"name":"macdtags"},"mark":{"type":"text","align":"left","baseline":"middle","fontSize":12,"color":"#ffffff","clip":false},
 "encoding":{"x":{"field":"ti","type":"quantitative","scale":{"domain":[-4.041,242],"nice":false,"zero":false,"padding":0},"axis":null},"y":{"field":"v","type":"quantitative","scale":{"domain":[-0.265,0.985],"nice":false,"zero":false}},"text":{"field":"t"}}}
]
},
{
"width":962,"height":120,
"layer":[
{"data":{"name":"vortex"},"transform":[{"filter":"datum.s == 'm'"}],"mark":{"type":"line","color":"#d01818","strokeWidth":1.3},
 "encoding":{"x":{"field":"i","type":"quantitative","scale":{"domain":[-4.041,242],"nice":false,"zero":false,"padding":0},
 "axis":{"orient":"bottom","values":[20,40,60,80,100,120,140,160,180,200,220,240],"tickCount":40,"labelExpr":"datum.value==20?'08/06':datum.value==40?'06/07':datum.value==60?'03/08':datum.value==80?'31/08':datum.value==100?'28/09':datum.value==120?'26/10':datum.value==140?'12/12':datum.value==160?'12/01':datum.value==180?'09/02':datum.value==200?'11/03':datum.value==220?'08/04':'06/05'","domain":false,"ticks":false,"grid":false,"labelPadding":7,"labelFontSize":12,"labelColor":"#333333","labelFont":"Liberation Sans","labelOverlap":false,"labelFlush":false,"title":null}},
 "y":{"field":"v","type":"quantitative","scale":{"domain":[0.01774,0.12057],"nice":false,"zero":false},"axis":{"orient":"right","values":[0.04,0.06,0.08,0.1],"tickCount":20,"format":".4f","domain":false,"ticks":false,"grid":false,"labelPadding":8,"labelFontSize":12,"labelColor":"#111111","labelFont":"Liberation Sans","title":null,"labelOffset":-1,"labelOverlap":false}}}},
{"data":{"name":"vortex"},"transform":[{"filter":"datum.s == 'p'"}],"mark":{"type":"line","color":"#1fa51f","strokeWidth":1.3},
 "encoding":{"x":{"field":"i","type":"quantitative","scale":{"domain":[-4.041,242],"nice":false,"zero":false,"padding":0}},"y":{"field":"v","type":"quantitative","scale":{"domain":[0.01774,0.12057],"nice":false,"zero":false}}}},
{"data":{"name":"circle"},"mark":{"type":"point","shape":"circle","size":6400,"filled":false,"stroke":"#12122e","strokeWidth":2.5,"opacity":1,"clip":false},
 "encoding":{"x":{"field":"i","type":"quantitative","scale":{"domain":[-4.041,242],"nice":false,"zero":false,"padding":0}},"y":{"field":"v","type":"quantitative","scale":{"domain":[0.01774,0.12057],"nice":false,"zero":false}}}},
{"data":{"name":"vortextext"},"mark":{"type":"text","align":"left","baseline":"middle","fontSize":12,"color":"#22a022"},
 "encoding":{"x":{"field":"i","type":"quantitative","scale":{"domain":[-4.041,242],"nice":false,"zero":false,"padding":0}},"y":{"field":"v","type":"quantitative","scale":{"domain":[0.01774,0.12057],"nice":false,"zero":false}},"text":{"field":"t"}}},
{"data":{"name":"vortextags"},"mark":{"type":"rect","color":"#008c00","clip":false},
 "encoding":{"x":{"field":"i1","type":"quantitative","scale":{"domain":[-4.041,242],"nice":false,"zero":false,"padding":0}},"x2":{"field":"i2"},"y":{"field":"v1","type":"quantitative","scale":{"domain":[0.01774,0.12057],"nice":false,"zero":false}},"y2":{"field":"v2"}}},
{"data":{"name":"vortextags"},"mark":{"type":"text","align":"left","baseline":"middle","fontSize":12,"color":"#ffffff","clip":false},
 "encoding":{"x":{"field":"ti","type":"quantitative","scale":{"domain":[-4.041,242],"nice":false,"zero":false,"padding":0}},"y":{"field":"v","type":"quantitative","scale":{"domain":[0.01774,0.12057],"nice":false,"zero":false}},"text":{"field":"t"}}}
]
}
]
}
